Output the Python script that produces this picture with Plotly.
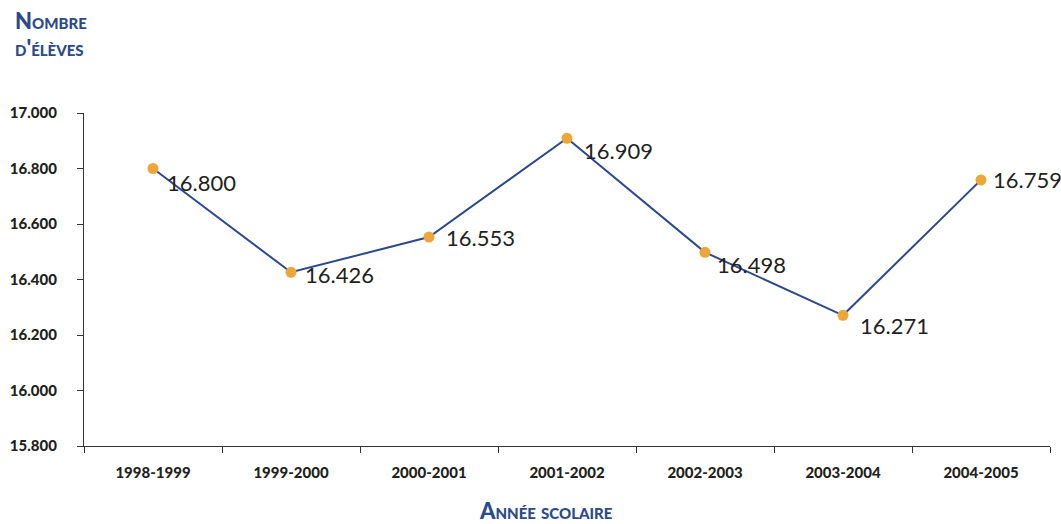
import plotly.graph_objects as go

# School years and pupil counts
years = ["1998-1999", "1999-2000", "2000-2001", "2001-2002", "2002-2003", "2003-2004", "2004-2005"]
pupils = [16800, 16426, 16553, 16909, 16498, 16271, 16759]
y_ticks = [15800, 16000, 16200, 16400, 16600, 16800, 17000]

# per-label offsets (pixels) relative to each point
label_dx = [12, 12, 15, 15, 10, 15, 10]
label_dy = [-14, -2, 0, -12, -12, -10, 0]

BLUE = "#2b4a8b"
ORANGE = "#eda63a"
INK = "#231f20"

fig = go.Figure()
fig.add_trace(go.Scatter(
    x=years, y=pupils, mode="lines+markers",
    line=dict(color=BLUE, width=2),
    marker=dict(color=ORANGE, size=11),
    hoverinfo="skip", showlegend=False,
))

def fmt(v):
    return f"{v:,}".replace(",", ".")

for x, v, dx, dy in zip(years, pupils, label_dx, label_dy):
    fig.add_annotation(
        x=x, y=v, text=fmt(v), showarrow=False,
        xanchor="left", yanchor="middle", xshift=dx, yshift=dy,
        font=dict(family="Lato, sans-serif", size=22, color=INK),
    )

title_font = dict(family="Lato, sans-serif", size=22, color=BLUE, weight=900, variant="small-caps")
for txt, yy in [("Nombre", 1.279), ("d'élèves", 1.197)]:
    fig.add_annotation(
        xref="paper", yref="paper", x=-0.074, y=yy, xanchor="left", yanchor="middle",
        text=txt, showarrow=False, font=title_font,
    )
fig.add_annotation(
    xref="paper", yref="paper", x=0.478, y=-0.195, xanchor="center", yanchor="middle",
    text="Année scolaire", showarrow=False, font=title_font,
)

tick_font = dict(family="Lato, sans-serif", size=15, color=INK, weight=900)

fig.update_layout(
    width=1061, height=524,
    margin=dict(l=84, r=11, t=113, b=78),
    paper_bgcolor="white", plot_bgcolor="white",
    separators=",.",
    xaxis=dict(
        type="category", showgrid=False, zeroline=False,
        showline=True, linecolor="#333", linewidth=1.2,
        ticks="outside", tickson="boundaries", ticklen=6, tickcolor="#333",
        tickfont=tick_font, ticklabelstandoff=13,
        range=[-0.5, 6.5],
    ),
    yaxis=dict(
        range=[15800, 17000], tickvals=y_ticks, tickformat=",d",
        showgrid=False, zeroline=False,
        showline=True, linecolor="#333", linewidth=1.2,
        ticks="outside", ticklen=6, tickcolor="#333",
        tickfont=tick_font, ticklabelstandoff=17,
    ),
)

fig.write_html("out.html")
